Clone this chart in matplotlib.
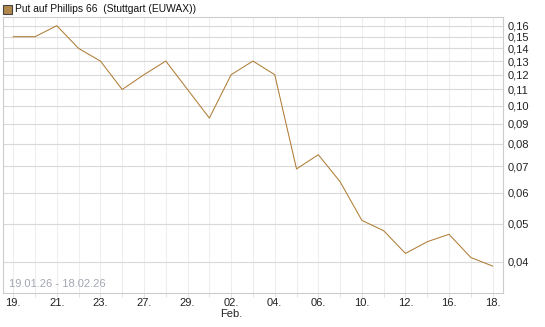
import matplotlib
matplotlib.use("Agg")
import matplotlib.pyplot as plt
import numpy as np
from matplotlib.ticker import FixedLocator, NullLocator

plt.rcParams["font.family"] = ["Liberation Sans", "DejaVu Sans"]

# trading days 19.01.26 - 18.02.26
day_labels = ["19.", "20.", "21.", "22.", "23.", "26.", "27.", "28.", "29.", "30.",
              "02.", "03.", "04.", "05.", "06.", "09.", "10.", "11.", "12.", "13.",
              "16.", "17.", "18."]
prices = [0.15, 0.15, 0.16, 0.14, 0.13, 0.11, 0.12, 0.13, 0.11, 0.093,
          0.12, 0.13, 0.12, 0.069, 0.075, 0.064, 0.051, 0.048, 0.042, 0.045,
          0.047, 0.041, 0.039]
y_ticks = [0.04, 0.05, 0.06, 0.07, 0.08, 0.09, 0.10, 0.11, 0.12, 0.13, 0.14, 0.15, 0.16]

LINE = "#b07d36"
x = np.arange(len(prices))

fig = plt.figure(figsize=(5.45, 3.27), dpi=100)
ax = fig.add_axes([0.0055, 0.105, 0.918, 0.844])

ax.plot(x, prices, color=LINE, lw=0.75)

ax.set_yscale("log")
ax.set_ylim(0.03336, 0.1687)
ax.set_xlim(-0.47, 22.49)

ax.yaxis.set_major_locator(FixedLocator(y_ticks))
ax.yaxis.set_minor_locator(NullLocator())
ax.set_yticklabels([f"{v:.2f}".replace(".", ",") for v in y_ticks])
ax.yaxis.tick_right()
ax.tick_params(axis="y", length=0, pad=3, labelsize=8, colors="#222222")

ax.set_xticks(x)
ax.set_xticklabels([lab if i % 2 == 0 else "" for i, lab in enumerate(day_labels)])
ax.tick_params(axis="x", length=3, width=0.6, color="#dddddd", pad=1,
               labelsize=8, labelcolor="#222222")

ax.grid(axis="x", color="#eeeeee", lw=0.8)
ax.grid(axis="y", color="#d9d9d9", lw=0.8)
ax.set_axisbelow(True)
for sp in ax.spines.values():
    sp.set_color("#cccccc")
    sp.set_linewidth(0.8)

# month marker under 02.
ax.text(10, -0.058, "Feb.", transform=ax.get_xaxis_transform(),
        ha="center", va="top", fontsize=8, color="#222222")

# date range
ax.text(0.012, 0.012, "19.01.26 - 18.02.26", transform=ax.transAxes,
        ha="left", va="bottom", fontsize=8, color="#a2a6b0")

# legend-like header
fig.patches.append(plt.Rectangle((3 / 545, 1 - 14 / 327), 9 / 545, 9 / 327,
                                 transform=fig.transFigure, facecolor="#b3884c",
                                 edgecolor="#444444", lw=0.8))
fig.text(15 / 545, 1 - 9.5 / 327, "Put auf Phillips 66  (Stuttgart (EUWAX))",
         ha="left", va="center", fontsize=7.4, color="#111111")

fig.savefig("out.png", dpi=100)
